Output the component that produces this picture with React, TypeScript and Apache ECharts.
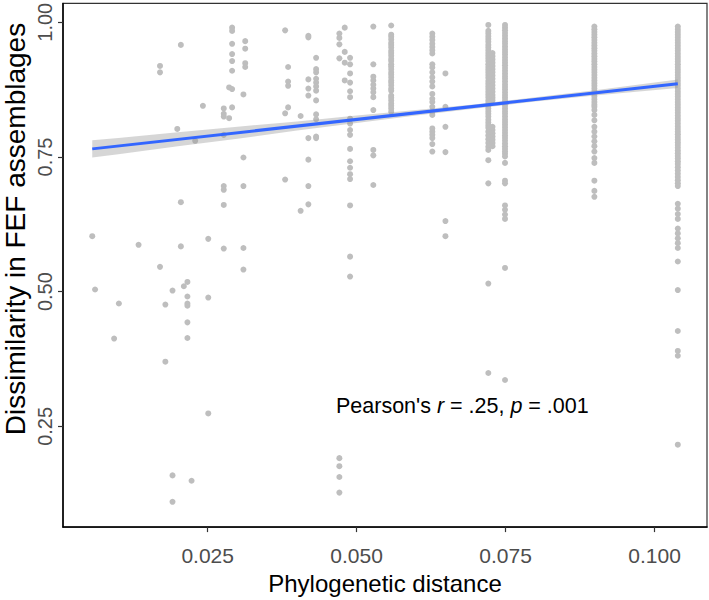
import React, { useEffect, useRef } from "react";
import * as echarts from "echarts";

// ---- axis ticks ----
const xTicks = [0.025, 0.05, 0.075, 0.1];
const yTicks = [0.25, 0.5, 0.75, 1.0];

// ---- scattered columns (x value and the y values read at it) ----
const sparseColX = [
  0.00563, 0.0061, 0.0093, 0.0101, 0.0134, 0.017, 0.0179, 0.0191, 0.0199, 0.0205,
  0.021, 0.0216, 0.0223, 0.0229, 0.0242, 0.0251, 0.0277, 0.0286, 0.0291, 0.031,
  0.0313, 0.038, 0.0385, 0.0406, 0.0419, 0.0432, 0.0471, 0.048, 0.0489, 0.0528,
];
const sparseColY = [
  [0.603],
  [0.504],
  [0.413],
  [0.478],
  [0.587],
  [0.919, 0.907, 0.546],
  [0.476, 0.37],
  [0.502, 0.159, 0.11],
  [0.802],
  [0.958, 0.666, 0.584],
  [0.51],
  [0.518, 0.491, 0.478, 0.474, 0.443, 0.414],
  [0.149],
  [0.78],
  [0.845],
  [0.598, 0.489, 0.274],
  [0.84, 0.83, 0.825, 0.791, 0.696, 0.689, 0.661, 0.58],
  [0.879, 0.822],
  [0.99, 0.984, 0.96, 0.941, 0.928, 0.91, 0.876, 0.842],
  [0.866, 0.749, 0.696, 0.581, 0.541],
  [0.965, 0.951, 0.924, 0.917],
  [0.985, 0.831, 0.708],
  [0.917, 0.89, 0.882, 0.842],
  [0.826, 0.65],
  [0.975, 0.972, 0.894, 0.877, 0.864, 0.785, 0.745, 0.696, 0.662],
  [0.934, 0.913, 0.907, 0.895, 0.888, 0.881, 0.873, 0.855, 0.829, 0.82, 0.788, 0.785],
  [0.979, 0.971, 0.959, 0.933, 0.191, 0.176, 0.156, 0.127],
  [0.99, 0.945, 0.925, 0.892],
  [0.934, 0.922, 0.905, 0.888, 0.872, 0.861, 0.821, 0.812, 0.8, 0.791, 0.765, 0.742, 0.73, 0.718, 0.709, 0.66, 0.565, 0.528],
  [0.992, 0.922, 0.899, 0.892, 0.884, 0.877, 0.87, 0.861, 0.837, 0.763, 0.753, 0.698],
];

// ---- dense columns ----
const denseColX = [0.0558, 0.0627, 0.0649, 0.0721, 0.0728, 0.0749, 0.0899, 0.1039];
const col0558 = [0.994, 0.977, 0.973, 0.968, 0.962, 0.958, 0.953, 0.947, 0.943, 0.938, 0.932, 0.928, 0.922, 0.918, 0.913, 0.907, 0.903, 0.898, 0.892, 0.888, 0.883, 0.877, 0.873, 0.864, 0.86, 0.855, 0.849, 0.845, 0.84, 0.834];
const col0627 = [0.979, 0.973, 0.967, 0.96, 0.954, 0.948, 0.942, 0.922, 0.916, 0.907, 0.898, 0.89, 0.881, 0.867, 0.858, 0.852, 0.843, 0.834, 0.828, 0.803, 0.797, 0.791, 0.785, 0.774, 0.76];
const col0649 = [0.905, 0.843, 0.806, 0.759, 0.631, 0.603];
const col0721 = [0.995, 0.984, 0.979, 0.974, 0.969, 0.964, 0.958, 0.953, 0.948, 0.943, 0.938, 0.933, 0.928, 0.922, 0.917, 0.912, 0.907, 0.902, 0.897, 0.891, 0.886, 0.881, 0.876, 0.871, 0.866, 0.861, 0.855, 0.85, 0.845, 0.84, 0.835, 0.83, 0.825, 0.819, 0.814, 0.809, 0.804, 0.797, 0.79, 0.783, 0.776, 0.769, 0.763, 0.744, 0.701, 0.515, 0.349];
const col0728 = [0.943, 0.937, 0.931, 0.925, 0.919, 0.913, 0.907, 0.901, 0.895, 0.889, 0.883, 0.877, 0.871, 0.865, 0.86, 0.855, 0.806, 0.8, 0.794, 0.788, 0.782, 0.776, 0.77];
const col0749 = [0.995, 0.99, 0.985, 0.98, 0.975, 0.97, 0.965, 0.96, 0.955, 0.95, 0.945, 0.94, 0.935, 0.93, 0.925, 0.92, 0.915, 0.91, 0.905, 0.9, 0.895, 0.89, 0.885, 0.88, 0.875, 0.87, 0.865, 0.86, 0.855, 0.85, 0.845, 0.84, 0.835, 0.83, 0.825, 0.82, 0.815, 0.81, 0.805, 0.8, 0.795, 0.79, 0.785, 0.78, 0.775, 0.77, 0.765, 0.76, 0.756, 0.751, 0.739, 0.706, 0.701, 0.66, 0.652, 0.643, 0.635, 0.544, 0.336];
const col0899 = [0.992, 0.987, 0.982, 0.977, 0.972, 0.967, 0.962, 0.957, 0.952, 0.947, 0.942, 0.937, 0.932, 0.927, 0.922, 0.917, 0.912, 0.907, 0.902, 0.897, 0.892, 0.887, 0.882, 0.877, 0.872, 0.867, 0.862, 0.857, 0.852, 0.847, 0.843, 0.837, 0.828, 0.818, 0.806, 0.797, 0.788, 0.779, 0.77, 0.76, 0.748, 0.739, 0.706, 0.687, 0.676];
const col1039 = [0.992, 0.987, 0.982, 0.977, 0.972, 0.967, 0.962, 0.957, 0.952, 0.947, 0.942, 0.937, 0.932, 0.927, 0.922, 0.917, 0.912, 0.907, 0.902, 0.897, 0.892, 0.887, 0.882, 0.877, 0.872, 0.867, 0.862, 0.857, 0.852, 0.847, 0.842, 0.837, 0.832, 0.827, 0.822, 0.817, 0.812, 0.807, 0.802, 0.797, 0.792, 0.787, 0.782, 0.777, 0.772, 0.767, 0.762, 0.757, 0.752, 0.747, 0.742, 0.737, 0.731, 0.725, 0.719, 0.713, 0.707, 0.701, 0.696, 0.663, 0.654, 0.644, 0.635, 0.617, 0.608, 0.599, 0.59, 0.581, 0.556, 0.503, 0.427, 0.39, 0.381, 0.216];
const denseColY = [col0558, col0627, col0649, col0721, col0728, col0749, col0899, col1039];

// ---- fitted line and its confidence band ----
const fitX = [0.00563, 0.1039];
const fitY = [0.765, 0.886];
const bandX = [0.00563, 0.01, 0.02, 0.03, 0.04, 0.05, 0.06, 0.07, 0.08, 0.09, 0.1039];
const bandLower = [0.749, 0.755, 0.77, 0.784, 0.799, 0.813, 0.827, 0.84, 0.853, 0.864, 0.878];
const bandUpper = [0.781, 0.785, 0.796, 0.806, 0.816, 0.827, 0.837, 0.848, 0.861, 0.874, 0.894];

const FONT = "'Liberation Sans', Arial, Helvetica, sans-serif";

function buildPoints(): number[][] {
  const pts: number[][] = [];
  const add = (xs: number[], ys: number[][]) => {
    xs.forEach((x, i) => ys[i].forEach((y) => pts.push([x, y])));
  };
  add(sparseColX, sparseColY);
  add(denseColX, denseColY);
  return pts;
}

export default function App() {
  const ref = useRef<HTMLDivElement>(null);
  useEffect(() => {
    if (!ref.current) return;
    const chart = echarts.init(ref.current, undefined, { renderer: "svg" });
    const points = buildPoints();
    chart.setOption({
      animation: false,
      backgroundColor: "#ffffff",
      grid: {
        left: 63,
        top: 1.5,
        width: 644,
        height: 531,
        show: true,
        borderColor: "#333333",
        borderWidth: 1.2,
        backgroundColor: "transparent",
      },
      xAxis: {
        type: "value",
        min: 0.00072,
        max: 0.1088,
        axisLine: { show: true, onZero: false, lineStyle: { color: "#000", width: 1.5 } },
        axisTick: { show: true, length: 5, customValues: xTicks, lineStyle: { color: "#333", width: 1.2 } },
        axisLabel: {
          customValues: xTicks,
          formatter: (v: number) => v.toFixed(3),
          fontSize: 21,
          color: "#4d4d4d",
          fontFamily: FONT,
          margin: 18,
        },
        splitLine: { show: false },
        name: "Phylogenetic distance",
        nameLocation: "middle",
        nameGap: 39,
        nameTextStyle: { fontSize: 24, color: "#000", fontFamily: FONT },
      },
      yAxis: {
        type: "value",
        min: 0.063,
        max: 1.035,
        axisLine: { show: true, onZero: false, lineStyle: { color: "#000", width: 1.5 } },
        axisTick: { show: true, length: 5, customValues: yTicks, lineStyle: { color: "#333", width: 1.2 } },
        axisLabel: {
          customValues: yTicks,
          formatter: (v: number) => v.toFixed(2),
          fontSize: 20,
          color: "#4d4d4d",
          fontFamily: FONT,
          rotate: 90,
          margin: 8,
        },
        splitLine: { show: false },
      },
      graphic: [
        {
          type: "text",
          x: 15,
          y: 229,
          rotation: Math.PI / 2,
          style: {
            text: "Dissimilarity in FEF assemblages",
            font: "28px " + FONT,
            fill: "#000",
            align: "center",
            verticalAlign: "middle",
          },
          z: 10,
        },
        {
          type: "text",
          left: 336,
          top: 395,
          style: {
            text: "{a|Pearson's }{i|r}{a| = .25, }{i|p}{a| = .001}",
            rich: {
              a: { fontSize: 21.5, fontFamily: FONT, fill: "#000" },
              i: { fontSize: 21.5, fontFamily: FONT, fontStyle: "italic", fill: "#000" },
            },
          },
          z: 10,
        },
      ],
      series: [
        {
          type: "scatter",
          data: points,
          symbolSize: 6,
          itemStyle: { color: "#bebebe", opacity: 1 },
          z: 1,
          silent: true,
        },
        {
          type: "custom",
          data: [[0]],
          z: 2,
          silent: true,
          renderItem: (_params: any, api: any) => {
            const pts: number[][] = [];
            for (let i = 0; i < bandX.length; i++) pts.push(api.coord([bandX[i], bandUpper[i]]));
            for (let i = bandX.length - 1; i >= 0; i--) pts.push(api.coord([bandX[i], bandLower[i]]));
            return {
              type: "polygon",
              shape: { points: pts },
              style: { fill: "rgba(153,153,153,0.4)" },
            };
          },
        },
        {
          type: "line",
          data: fitX.map((x, i) => [x, fitY[i]]),
          symbol: "none",
          lineStyle: { color: "#3366ff", width: 3 },
          z: 3,
          silent: true,
        },
      ],
    });
    return () => chart.dispose();
  }, []);
  return <div ref={ref} style={{ width: 709, height: 600, position: "absolute", left: 0, top: 0 }} />;
}
